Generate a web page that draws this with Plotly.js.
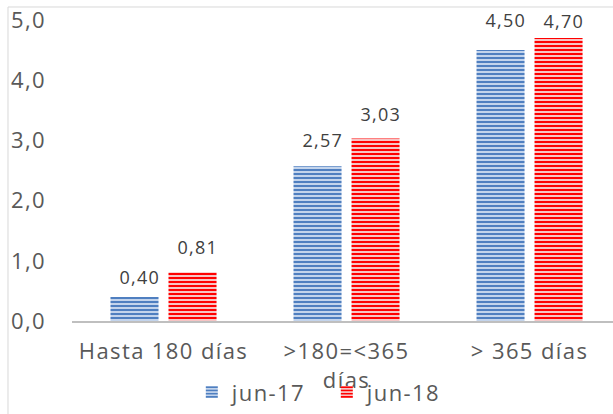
<!DOCTYPE html>
<html>
<head>
<meta charset="utf-8">
<script src="https://cdn.plot.ly/plotly-3.0.1.min.js"></script>
<style>
html,body{margin:0;padding:0;overflow:hidden;background:#fff;}
#chart{width:613px;height:414px;}
#chart .xtick text, #chart .ytick text, #chart .legendtext {letter-spacing: 1.4px;}
#chart .annotation-text {letter-spacing: 1.2px;}
</style>
</head>
<body>
<div id="chart"></div>
<script>
var categories = ['Hasta 180 días', '>180=<365 días', '> 365 días'];
var tickLabels = ['Hasta 180 días', '>180=&lt;365<br>días', '> 365 días'];
var seriesNames = ['jun-17', 'jun-18'];
var jun17 = [0.40, 2.57, 4.50];
var jun18 = [0.81, 3.03, 4.70];
// label lift above bar top (px), as placed in the original
var lift17 = [20, 26, 30];
var lift18 = [25, 25, 17];

var xIdx = categories.map(function(c, i){ return i; });
var textColor = '#595959';
var font = 'Open Sans, Noto Sans, sans-serif';
var bargap = 0.366;
var slot = (1 - bargap) / 2;

function barTrace(name, vals, fg, bg){
  return {
    type: 'bar',
    name: name,
    x: xIdx,
    y: vals,
    cliponaxis: false,
    marker: {
      color: bg,
      line: {width: 0},
      pattern: {shape: '-', fgcolor: fg, bgcolor: bg, size: 4, solidity: 0.5, fillmode: 'replace'}
    },
    hoverinfo: 'skip'
  };
}

var data = [
  barTrace(seriesNames[0], jun17, '#4f7fc0', '#c3d4ec'),
  barTrace(seriesNames[1], jun18, '#ff0000', '#f6c4c4')
];

var annotations = [];
function addLabels(vals, lifts, side){
  vals.forEach(function(v, i){
    annotations.push({
      xref: 'x', yref: 'y',
      x: xIdx[i] + side * slot / 2,
      y: v,
      text: v.toFixed(2).replace('.', ','),
      showarrow: false,
      xanchor: 'center', yanchor: 'middle',
      xshift: 5, yshift: lifts[i],
      font: {family: font, size: 18, color: '#404040'}
    });
  });
}
addLabels(jun17, lift17, -1);
addLabels(jun18, lift18, 1);

var layout = {
  width: 613,
  height: 414,
  margin: {l: 72, r: 0, t: 20, b: 93, autoexpand: false},
  paper_bgcolor: '#ffffff',
  plot_bgcolor: '#ffffff',
  separators: ',.',
  barmode: 'group',
  bargap: bargap,
  bargroupgap: 0.172,
  showlegend: true,
  legend: {
    orientation: 'h',
    x: 0.471, xanchor: 'center',
    y: -0.167, yanchor: 'top',
    font: {family: font, size: 22, color: textColor},
    bgcolor: 'rgba(0,0,0,0)',
    itemwidth: 30,
    entrywidth: 90,
    traceorder: 'normal'
  },
  xaxis: {
    type: 'linear',
    range: [-0.5, 2.456],
    tickvals: xIdx,
    ticktext: tickLabels,
    showgrid: false,
    zeroline: false,
    showline: true,
    linecolor: '#bfbfbf',
    linewidth: 2,
    ticks: '',
    automargin: false,
    ticklabelstandoff: 10,
    tickfont: {family: font, size: 22, color: textColor},
    fixedrange: true
  },
  yaxis: {
    range: [0, 5],
    dtick: 1,
    tick0: 0,
    tickformat: '.1f',
    showgrid: false,
    zeroline: false,
    showline: false,
    ticks: '',
    automargin: false,
    ticklabelstandoff: 25,
    tickfont: {family: font, size: 22, color: textColor},
    fixedrange: true
  },
  annotations: annotations,
  shapes: [{
    type: 'rect', xref: 'paper', yref: 'paper',
    x0: -0.1183, x1: 1.2, y0: -0.5, y1: 1.0432,
    line: {color: '#d9d9d9', width: 1},
    fillcolor: 'rgba(0,0,0,0)',
    layer: 'below'
  }]
};

Plotly.newPlot('chart', data, layout, {displayModeBar: false, staticPlot: true});
</script>
</body>
</html>
